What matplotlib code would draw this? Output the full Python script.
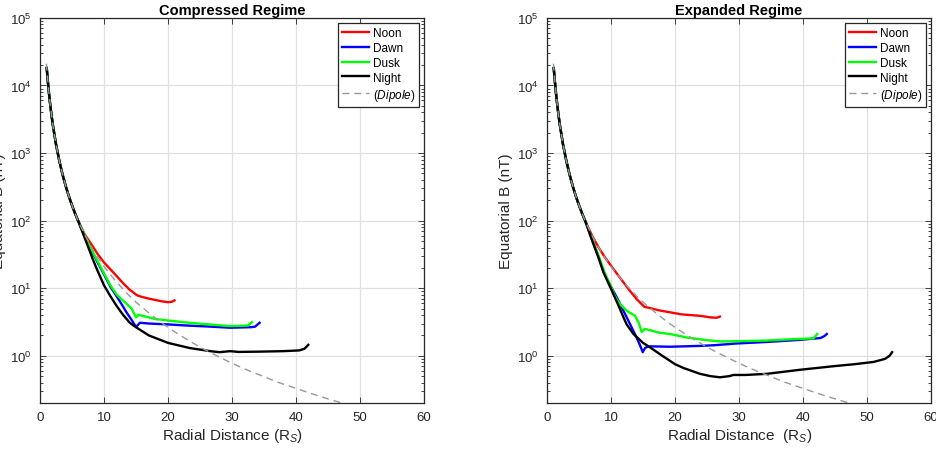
import matplotlib
matplotlib.use("Agg")
import matplotlib.pyplot as plt
from matplotlib.ticker import LogLocator, NullFormatter, MultipleLocator

plt.rcParams['font.family'] = ['Liberation Sans', 'DejaVu Sans']
plt.rcParams['mathtext.fontset'] = 'custom'
plt.rcParams['mathtext.rm'] = 'Liberation Sans'
plt.rcParams['mathtext.it'] = 'Liberation Sans:italic'
plt.rcParams['mathtext.bf'] = 'Liberation Sans:bold'

# ---- data (r in R_S, B in nT) ----
# inner part, common to every local time (curves sit on the dipole there)
inner_r = [1.05, 1.2, 1.4, 1.6, 1.8, 2.0, 2.5, 3.0, 3.5, 4.0, 4.5, 5.0, 5.5, 6.0]
inner_b = [18100, 12150, 7650, 5130, 3600, 2620, 1340, 780, 490, 328, 230, 168, 126, 97]

# dipole reference
dip_r = [1.0, 1.2, 1.4, 1.6, 1.8, 2.0, 2.5, 3.0, 3.5, 4.0, 4.5, 5.0, 5.5, 6.0, 7, 8, 9, 10,
         11, 12, 13, 14, 15, 17, 19, 21, 23, 25, 27, 29, 31, 33, 35, 37, 39, 41, 43,
         45, 47, 49]
dip_b = [21000, 12150, 7650, 5130, 3600, 2620, 1340, 780, 490, 328, 230, 168, 126, 97,
         61, 41, 28.8, 21, 15.8, 12.2, 9.6, 7.65, 6.2, 4.3, 3.06, 2.27, 1.73, 1.34,
         1.07, 0.86, 0.70, 0.58, 0.49, 0.41, 0.354, 0.305, 0.264, 0.23, 0.202, 0.178]

# compressed regime, outer parts
c_noon_r = [7, 8, 9, 10, 11, 12, 13, 14, 15.2, 16, 17, 18, 19, 20, 20.6, 21]
c_noon_b = [62, 45, 32, 24, 19, 15, 11.8, 9.5, 7.8, 7.4, 7.0, 6.7, 6.4, 6.2, 6.3, 6.6]
c_dawn_r = [7, 8, 9, 10, 11, 12, 13, 13.5, 14.3, 15.0, 15.6, 17, 20.3, 23, 26.6, 29.7,
            33, 33.6, 34.3]
c_dawn_b = [58, 37, 24, 16, 10.5, 7.5, 5.3, 4.4, 3.4, 2.66, 3.08, 3.0, 2.9, 2.8, 2.7,
            2.6, 2.65, 2.7, 3.08]
c_dusk_r = [7, 8, 9, 10, 11, 12, 12.5, 13.5, 14.3, 15.0, 15.4, 16, 18, 20.3, 23, 26.6,
            29.7, 32.5, 33.1]
c_dusk_b = [60, 38, 25, 16.5, 11, 8, 7.2, 5.9, 5.0, 3.7, 4.05, 3.9, 3.5, 3.3, 3.1, 2.9,
            2.75, 2.8, 3.15]
c_night_r = [7, 8, 8.3, 9, 10, 11, 12, 13, 14, 14.6, 15.4, 17, 20, 23.4, 26.6, 28,
             29.7, 31, 34, 38, 40.5, 41.3, 41.9]
c_night_b = [55, 31, 26, 18, 11, 7.6, 5.4, 4.0, 3.1, 2.8, 2.5, 2.0, 1.55, 1.3, 1.17,
             1.13, 1.17, 1.14, 1.15, 1.17, 1.2, 1.27, 1.45]

# expanded regime, outer parts
e_noon_r = [7, 8, 9, 10, 11, 12, 13, 14, 15.2, 16, 17.5, 19.2, 21, 23.9, 25.5, 26.5, 27]
e_noon_b = [61, 41, 29, 21.5, 16, 12, 9.0, 6.9, 5.3, 5.1, 4.7, 4.4, 4.1, 3.9, 3.7,
            3.65, 3.8]
e_dawn_r = [7, 8, 9, 10, 11, 12, 13, 14, 14.5, 14.95, 15.3, 15.8, 19.2, 23.9, 26, 29.6,
            34.3, 39.5, 42.7, 43.3, 43.7]
e_dawn_b = [54, 30, 16, 10.5, 7, 4.5, 2.9, 1.85, 1.45, 1.13, 1.3, 1.38, 1.36, 1.4,
            1.43, 1.52, 1.6, 1.72, 1.83, 1.95, 2.1]
e_dusk_r = [7, 8, 9, 10, 10.5, 11, 11.4, 12.5, 13.75, 14.3, 14.8, 15.3, 16, 17.5, 19.2,
            22, 25, 27, 29.6, 34.3, 39.5, 41.6, 42.2]
e_dusk_b = [54, 31, 17, 10.5, 8.0, 6.6, 5.8, 4.6, 3.9, 3.1, 2.25, 2.5, 2.4, 2.2, 2.1,
            1.85, 1.7, 1.63, 1.64, 1.68, 1.78, 1.8, 2.1]
e_night_r = [7, 8, 8.8, 10.1, 11, 12, 12.45, 13.5, 15, 16, 18, 20, 21.3, 23.9, 25.5, 27,
             28.5, 29.1, 31, 34.3, 39.5, 44.7, 48, 51, 52.8, 53.5, 53.9]
e_night_b = [52, 29, 17.3, 9.3, 6.0, 3.6, 2.9, 2.1, 1.55, 1.35, 1.0, 0.75, 0.66, 0.54,
             0.5, 0.48, 0.5, 0.52, 0.52, 0.54, 0.62, 0.70, 0.75, 0.81, 0.9, 1.0, 1.13]

names = ['Noon', 'Dawn', 'Dusk', 'Night']
colors = ['#ff0000', '#0000ff', '#00ff00', '#000000']

regimes = [
    ('Compressed Regime', 'Radial Distance (R$_S$)',
     [(c_noon_r, c_noon_b), (c_dawn_r, c_dawn_b), (c_dusk_r, c_dusk_b), (c_night_r, c_night_b)]),
    ('Expanded Regime', 'Radial Distance  (R$_S$)',
     [(e_noon_r, e_noon_b), (e_dawn_r, e_dawn_b), (e_dusk_r, e_dusk_b), (e_night_r, e_night_b)]),
]

fig = plt.figure(figsize=(9.37, 4.52), dpi=100)
lefts = [0.0427, 0.5838]

for left, (title, xlab, curves) in zip(lefts, regimes):
    ax = fig.add_axes([left, 0.1062, 0.41, 0.852])
    for name, col, (r, b) in zip(names, colors, curves):
        ax.plot(inner_r + r, inner_b + b, color=col, lw=1.7, label=name)
    ax.plot(dip_r, dip_b, color='#999999', lw=1.0, ls=(0, (5, 3.5)),
            label='($\\it{Dipole}$)')

    ax.set_yscale('log')
    ax.set_xlim(0, 60)
    ax.set_ylim(0.2, 1e5)
    ax.xaxis.set_major_locator(MultipleLocator(10))
    ax.yaxis.set_major_locator(LogLocator(base=10, numticks=10))
    ax.yaxis.set_minor_locator(LogLocator(base=10, subs=range(2, 10), numticks=20))
    ax.yaxis.set_minor_formatter(NullFormatter())
    ax.tick_params(which='both', direction='in', top=True, right=True,
                   labelsize=9.5, colors='#262626', width=0.6)
    ax.tick_params(which='major', length=4, pad=6)
    ax.tick_params(which='minor', length=2)
    ax.grid(True, which='major', color='#e0e0e0', lw=0.9)
    ax.set_axisbelow(True)
    for sp in ax.spines.values():
        sp.set_linewidth(0.9)
        sp.set_color('#262626')

    ax.set_title(title, fontsize=10.5, fontweight='bold', pad=3)
    ax.set_xlabel(xlab, fontsize=11, color='#262626', labelpad=2)
    ax.set_ylabel('Equatorial B (nT)', fontsize=11, color='#262626', labelpad=3)

    leg = ax.legend(loc='upper right', fontsize=8.5, fancybox=False, framealpha=1,
                    edgecolor='#262626', handlelength=2.3, handletextpad=0.3,
                    borderpad=0.35, labelspacing=0.25, borderaxespad=0.4)
    leg.get_frame().set_linewidth(0.9)

fig.savefig('out.png', dpi=100)
